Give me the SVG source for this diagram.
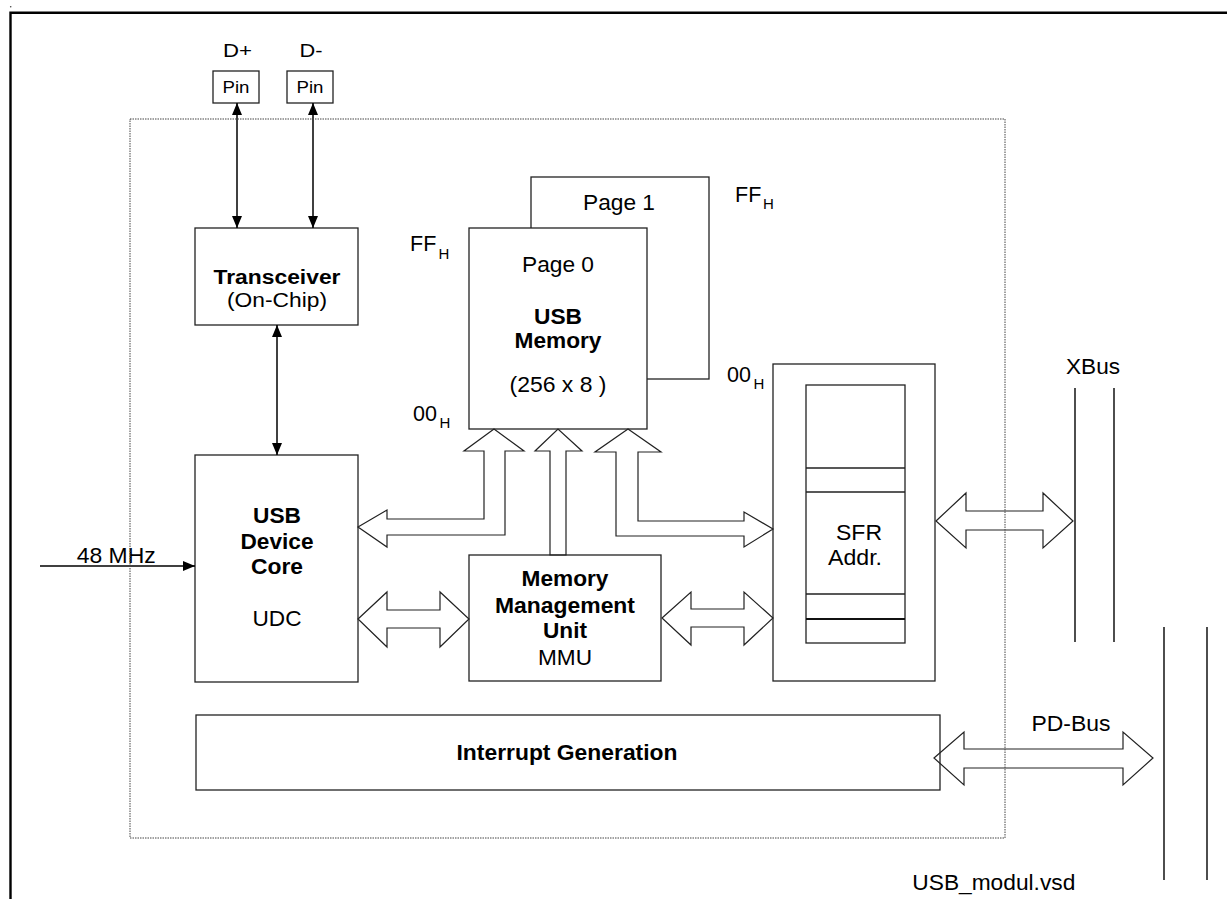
<svg xmlns="http://www.w3.org/2000/svg" width="1227" height="899" viewBox="0 0 1227 899">
<defs>
<style>
.box{fill:#fff;stroke:#222;stroke-width:1.3}
.boxn{fill:none;stroke:#222;stroke-width:1.3}
.ln{fill:none;stroke:#000;stroke-width:1.5}
.bus{fill:none;stroke:#222;stroke-width:1.6}
.barrow{fill:none;stroke:#222;stroke-width:1.2;stroke-linejoin:miter}
.t{font-family:"Liberation Sans",Arial,Helvetica,sans-serif;font-size:21.5px;fill:#000}
.b{font-weight:bold}
.m{text-anchor:middle}
.s{font-size:15px}
.sm{font-size:17px}
.md{font-size:19px}
.tc{font-size:20px}
</style>
<marker id="ah" viewBox="0 0 12 10" refX="12" refY="5" markerWidth="12" markerHeight="10" markerUnits="userSpaceOnUse" orient="auto-start-reverse"><path d="M0,0 L12,5 L0,10 z" fill="#000"/></marker>
</defs>
<rect x="0" y="0" width="1227" height="899" fill="#fff"/>
<g id="frame">
<path d="M10.5,899 V12.8 H1227" fill="none" stroke="#000" stroke-width="2.4"/>
<circle cx="10.7" cy="6.7" r="0.8" fill="#444"/>
</g>

<g id="pin-dplus">
<text class="t md m" x="237.5" y="57" textLength="29" lengthAdjust="spacingAndGlyphs">D+</text>
<rect class="box" x="213" y="71" width="46" height="32"/>
<text class="t sm m" x="236" y="93" textLength="27" lengthAdjust="spacingAndGlyphs">Pin</text>
</g>
<g id="pin-dminus">
<text class="t md m" x="311" y="57" textLength="23" lengthAdjust="spacingAndGlyphs">D-</text>
<rect class="box" x="287" y="71" width="46" height="32"/>
<text class="t sm m" x="310" y="93" textLength="27" lengthAdjust="spacingAndGlyphs">Pin</text>
</g>

<g id="transceiver">
<rect class="box" x="195" y="228" width="163" height="97"/>
<text class="t tc b m" x="277" y="283.5" textLength="127" lengthAdjust="spacingAndGlyphs">Transceiver</text>
<text class="t tc m" x="277" y="306.5" textLength="100" lengthAdjust="spacingAndGlyphs">(On-Chip)</text>
</g>

<g id="udc">
<rect class="box" x="195" y="455" width="163" height="227"/>
<text class="t b m" x="277" y="523" textLength="48" lengthAdjust="spacingAndGlyphs">USB</text>
<text class="t b m" x="277" y="549" textLength="73" lengthAdjust="spacingAndGlyphs">Device</text>
<text class="t b m" x="277" y="574" textLength="52" lengthAdjust="spacingAndGlyphs">Core</text>
<text class="t m" x="277" y="626" textLength="49" lengthAdjust="spacingAndGlyphs">UDC</text>
</g>

<g id="usb-memory">
<rect class="box" x="531" y="177" width="178" height="202"/>
<text class="t m" x="619" y="210" textLength="72" lengthAdjust="spacingAndGlyphs">Page 1</text>
<rect class="box" x="469" y="228" width="178" height="201"/>
<text class="t m" x="558" y="272" textLength="72" lengthAdjust="spacingAndGlyphs">Page 0</text>
<text class="t b m" x="558" y="324" textLength="48" lengthAdjust="spacingAndGlyphs">USB</text>
<text class="t b m" x="558" y="348" textLength="87" lengthAdjust="spacingAndGlyphs">Memory</text>
<text class="t m" x="558" y="392" textLength="97" lengthAdjust="spacingAndGlyphs">(256 x 8 )</text>
<text class="t" x="735" y="202">FF</text><text class="t s" x="763" y="209">H</text>
<text class="t" x="410" y="251">FF</text><text class="t s" x="438.5" y="258.5">H</text>
<text class="t" x="413" y="421">00</text><text class="t s" x="439.5" y="428">H</text>
<text class="t" x="727" y="382">00</text><text class="t s" x="753.5" y="389">H</text>
</g>

<g id="mmu">
<rect class="box" x="469" y="555" width="192" height="126"/>
<text class="t b m" x="565" y="586" textLength="87" lengthAdjust="spacingAndGlyphs">Memory</text>
<text class="t b m" x="565" y="613" textLength="140" lengthAdjust="spacingAndGlyphs">Management</text>
<text class="t b m" x="565" y="638" textLength="44" lengthAdjust="spacingAndGlyphs">Unit</text>
<text class="t m" x="565" y="664.5" textLength="54" lengthAdjust="spacingAndGlyphs">MMU</text>
</g>

<g id="sfr">
<rect class="box" x="773" y="364" width="162" height="317"/>
<rect class="box" x="806" y="385" width="99" height="258"/>
<path d="M806,468 H905 M806,492 H905 M806,594 H905" fill="none" stroke="#222" stroke-width="1.3"/>
<path d="M806,619 H905" stroke="#111" stroke-width="2.2"/>
<text class="t m" x="859" y="539.5" textLength="46" lengthAdjust="spacingAndGlyphs">SFR</text>
<text class="t m" x="855" y="564.5" textLength="54" lengthAdjust="spacingAndGlyphs">Addr.</text>
</g>

<g id="interrupt">
<rect class="boxn" x="196" y="715" width="744" height="75"/>
<text class="t b m" x="567" y="760" textLength="221" lengthAdjust="spacingAndGlyphs">Interrupt Generation</text>
</g>

<g id="xbus">
<text class="t m" x="1093" y="373.5" textLength="54" lengthAdjust="spacingAndGlyphs">XBus</text>
<path class="bus" d="M1075,388 V642 M1114,388 V642"/>
</g>

<g id="pdbus">
<text class="t m" x="1071" y="730.5" textLength="79" lengthAdjust="spacingAndGlyphs">PD-Bus</text>
<path class="bus" d="M1164,627 V880 M1207,627 V880"/>
</g>

<g id="file-label">
<text class="t" x="912.3" y="890" textLength="163" lengthAdjust="spacingAndGlyphs">USB_modul.vsd</text>
</g>

<g id="connectors">
<line class="ln" x1="237" y1="103" x2="237" y2="228" marker-start="url(#ah)" marker-end="url(#ah)"/>
<line class="ln" x1="313" y1="103" x2="313" y2="228" marker-start="url(#ah)" marker-end="url(#ah)"/>
<line class="ln" x1="277" y1="325" x2="277" y2="455" marker-start="url(#ah)" marker-end="url(#ah)"/>
<line class="ln" x1="40" y1="566" x2="195" y2="566" marker-end="url(#ah)"/>
<text class="t" x="76.7" y="563" textLength="79" lengthAdjust="spacingAndGlyphs">48 MHz</text>
<polygon class="barrow" points="358,527 387,510 387,519 484,519 484,451 464,451 494,429 524,451 505,451 505,535 387,535 387,547"/>
<polygon class="barrow" points="550,555 550,451 535,451 558,429 582,451 566,451 566,555"/>
<polygon class="barrow" points="616,536 616,452 595,452 628,429 661,452 638,452 638,521 744,521 744,512 773,529 744,547 744,536"/>
<polygon class="barrow" points="358,619 387,592 387,610 440,610 440,592 469,619 440,647 440,628 387,628 387,647"/>
<polygon class="barrow" points="662,618 691,592 691,609 744,609 744,592 773,618 744,645 744,627 691,627 691,645"/>
<polygon class="barrow" points="936,521 966,493 966,511 1043,511 1043,493 1073,521 1043,548 1043,530 966,530 966,548"/>
<polygon class="barrow" points="934,758 964,732 964,749 1123,749 1123,732 1153,758 1123,785 1123,768 964,768 964,785"/>
</g>

<g id="module-boundary">
<rect x="130" y="119" width="875" height="719" fill="none" stroke="#444" stroke-width="1" stroke-dasharray="1.5,1"/>
</g>
</svg>
